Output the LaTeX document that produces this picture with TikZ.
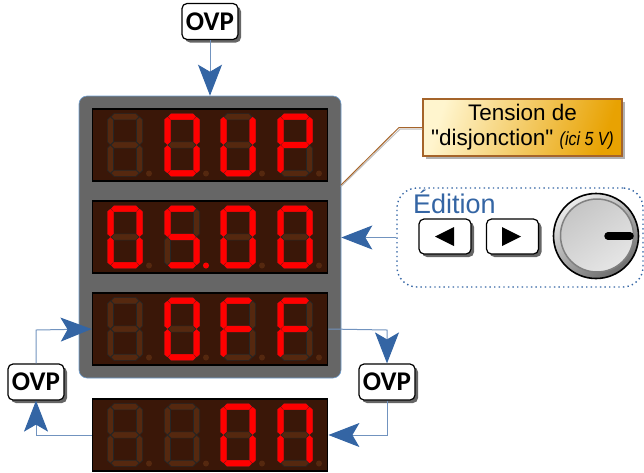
\documentclass[tikz,border=0pt]{standalone}
\usepackage{fontspec}
\setmainfont{Liberation Sans}
\newfontfamily\ovpfont{Carlito}
\newfontfamily\notefont{Liberation Sans}
\newfontface\noteital[FakeStretch=0.84]{Liberation Sans Italic}
\usetikzlibrary{arrows.meta,shadows,shadings}
\definecolor{panelgrey}{HTML}{666666}
\definecolor{dispback}{HTML}{3A1708}
\definecolor{segdim}{HTML}{55280F}
\definecolor{seglit}{HTML}{FF0000}
\definecolor{arrowblue}{HTML}{3465A4}
\definecolor{wireblue}{HTML}{729FCF}
\definecolor{notebrown}{HTML}{A5642A}
\definecolor{notelight}{HTML}{FFF5CE}
\definecolor{notedark}{HTML}{E8A202}
\tikzset{
  >={Stealth[length=31pt,width=24pt,inset=7pt,arrowblue]},
  wire/.style={draw=arrowblue!70!white,line width=1pt},
  panelbox/.style={draw=wireblue,fill=panelgrey,rounded corners=8pt,line width=.6pt,inner sep=0pt,minimum width=262pt,minimum height=282pt},
  dispbox/.style={draw=black,fill=dispback,line width=1.8pt,inner sep=0pt,minimum width=235pt,minimum height=72pt},
  ovpbox/.style={draw=black,fill=white,rounded corners=5pt,line width=1.2pt,inner sep=0pt,minimum width=56pt,minimum height=36pt,font=\ovpfont\bfseries\fontsize{27}{27}\selectfont,drop shadow={shadow xshift=3pt,shadow yshift=-3pt,fill=gray!80!black,opacity=1}},
  keybox/.style={draw=black,fill=white,rounded corners=5pt,line width=1.2pt,inner sep=0pt,minimum width=52pt,minimum height=35pt,drop shadow={shadow xshift=3pt,shadow yshift=-3pt,fill=gray!80!black,opacity=1}},
  notebox/.style={draw=notebrown,line width=1.2pt,inner sep=0pt,minimum width=199pt,minimum height=57pt,align=center,left color=notelight,right color=notedark,shading angle=72,drop shadow={shadow xshift=2.5pt,shadow yshift=-2.5pt,fill=gray!60,opacity=1},font=\notefont\fontsize{22.5}{25}\selectfont},
  editbox/.style={draw=arrowblue,line width=1.4pt,dash pattern=on 1.4pt off 3.2pt,rounded corners=20pt,inner sep=0pt,minimum width=246pt,minimum height=99pt},
  segdark/.style={fill=segdim,draw=black!85,line width=.6pt},
  seglight/.style={fill=seglit,draw=seglit,line width=.4pt},
  seg a/.style={shift={(0,-28.3)}},
  seg g/.style={shift={(0,0)}},
  seg d/.style={shift={(0,28.3)}},
  seg f/.style={shift={(-14.6,-14.2)},rotate=90},
  seg b/.style={shift={(14.6,-14.2)},rotate=90},
  seg e/.style={shift={(-14.6,14.2)},rotate=90},
  seg c/.style={shift={(14.6,14.2)},rotate=90},
}
% one digit: centre x, centre y, lit segments
\newcommand{\segdigit}[3]{
  \begin{scope}[shift={(#1,#2)}]
    \foreach \s in {a,b,c,d,e,f,g}
      \path[segdark,seg \s] (-14,0) -- (-11,-3.1) -- (11,-3.1) -- (14,0) -- (11,3.1) -- (-11,3.1) -- cycle;
    \foreach \s in {#3}
      \path[seglight,seg \s] (-13.6,0) -- (-11,-2.9) -- (11,-2.9) -- (13.6,0) -- (11,2.9) -- (-11,2.9) -- cycle;
    \fill[segdim] (24,28.5) circle (3);
  \end{scope}
}
\begin{document}
\begin{tikzpicture}[x=1pt,y=-1pt]
  \useasboundingbox (0,0) rectangle (644,472);

  \node[panelbox] (panel) at (210,237) {};
  \node[dispbox] (dispup) at (210,145) {};
  \node[dispbox] (dispval) at (210,237) {};
  \node[dispbox] (dispoff) at (210,329) {};
  \node[dispbox] (dispon) at (210,435) {};

  \segdigit{125}{145}{}
  \segdigit{182}{145}{a,b,c,d,e,f}
  \segdigit{238}{145}{b,c,d,e,f}
  \segdigit{295}{145}{a,b,e,f,g}

  \segdigit{125}{237}{a,b,c,d,e,f}
  \segdigit{182}{237}{a,c,d,f,g}
  \segdigit{238}{237}{a,b,c,d,e,f}
  \segdigit{295}{237}{a,b,c,d,e,f}
  \fill[seglit] (206,265.5) circle (3);

  \segdigit{125}{329}{}
  \segdigit{182}{329}{a,b,c,d,e,f}
  \segdigit{238}{329}{a,e,f,g}
  \segdigit{295}{329}{a,e,f,g}

  \segdigit{125}{435}{}
  \segdigit{182}{435}{}
  \segdigit{238}{435}{a,b,c,d,e,f}
  \segdigit{295}{435}{a,b,c,e,f}

  \node[ovpbox] (ovptop) at (210,21.5) {OVP};
  \node[ovpbox] (ovpleft) at (36,382) {OVP};
  \node[ovpbox] (ovpright) at (387,382) {OVP};

  \node[notebox] (note) at (522.5,127.5) {Tension de\\"disjonction" {\noteital\fontsize{19}{20}\selectfont (ici 5 V)}};
  \coordinate (noteknee) at (399,127.5);
  \coordinate (notefoot) at (341,185);
  \draw[gray!50,line width=1pt] ([yshift=-1.6pt]note.west) -- ([xshift=1pt,yshift=-1.6pt]noteknee) -- ([yshift=-1.6pt]notefoot);
  \draw[notebrown,line width=1pt] (note.west) -- (noteknee) -- (notefoot);

  \node[editbox] (edit) at (520,237.5) {};
  \node[text=arrowblue,font=\fontsize{27}{27}\selectfont,anchor=base west,inner sep=0pt] (edittitle) at (413,213) {Édition};
  \node[keybox] (keyleft) at (445,236.5) {};
  \node[keybox] (keyright) at (512.5,236.5) {};
  \fill (454,227) -- (454,246) -- (435,236.5) -- cycle;
  \fill (502,227) -- (502,246) -- (521,236.5) -- cycle;

  \node[circle,draw=black,line width=1.6pt,minimum size=85pt,inner sep=0pt,top color=gray!15,bottom color=gray!85!black,shading angle=35] (knob) at (596,236) {};
  \node[circle,draw=gray,line width=1.5pt,minimum size=73pt,inner sep=0pt,top color=gray!45,bottom color=gray!20,shading angle=35] (knobface) at (597,235.5) {};
  \coordinate (knobin) at (608,236);
  \coordinate (knobout) at (630,236);
  \draw[black,line width=7.5pt,line cap=round] (knobin) -- (knobout);

  \coordinate (offside) at (36,330);
  \coordinate (offout) at (387,330);
  \coordinate (onout) at (387,435);
  \coordinate (onside) at (36,435);

  \draw[wire,->] (ovptop) -- (panel.north);
  \draw[wire,->] (edit.west) -- (edit.west -| panel.east);
  \draw[wire,->] (ovpleft.north) -- (offside) -- (dispoff.west);
  \draw[wire,->] (dispoff.east) -- (offout) -- (ovpright.north);
  \draw[wire,->] (ovpright.south) -- (onout) -- (dispon.east);
  \draw[wire,->] (dispon.west) -- (onside) -- (ovpleft.south);
\end{tikzpicture}
\end{document}
